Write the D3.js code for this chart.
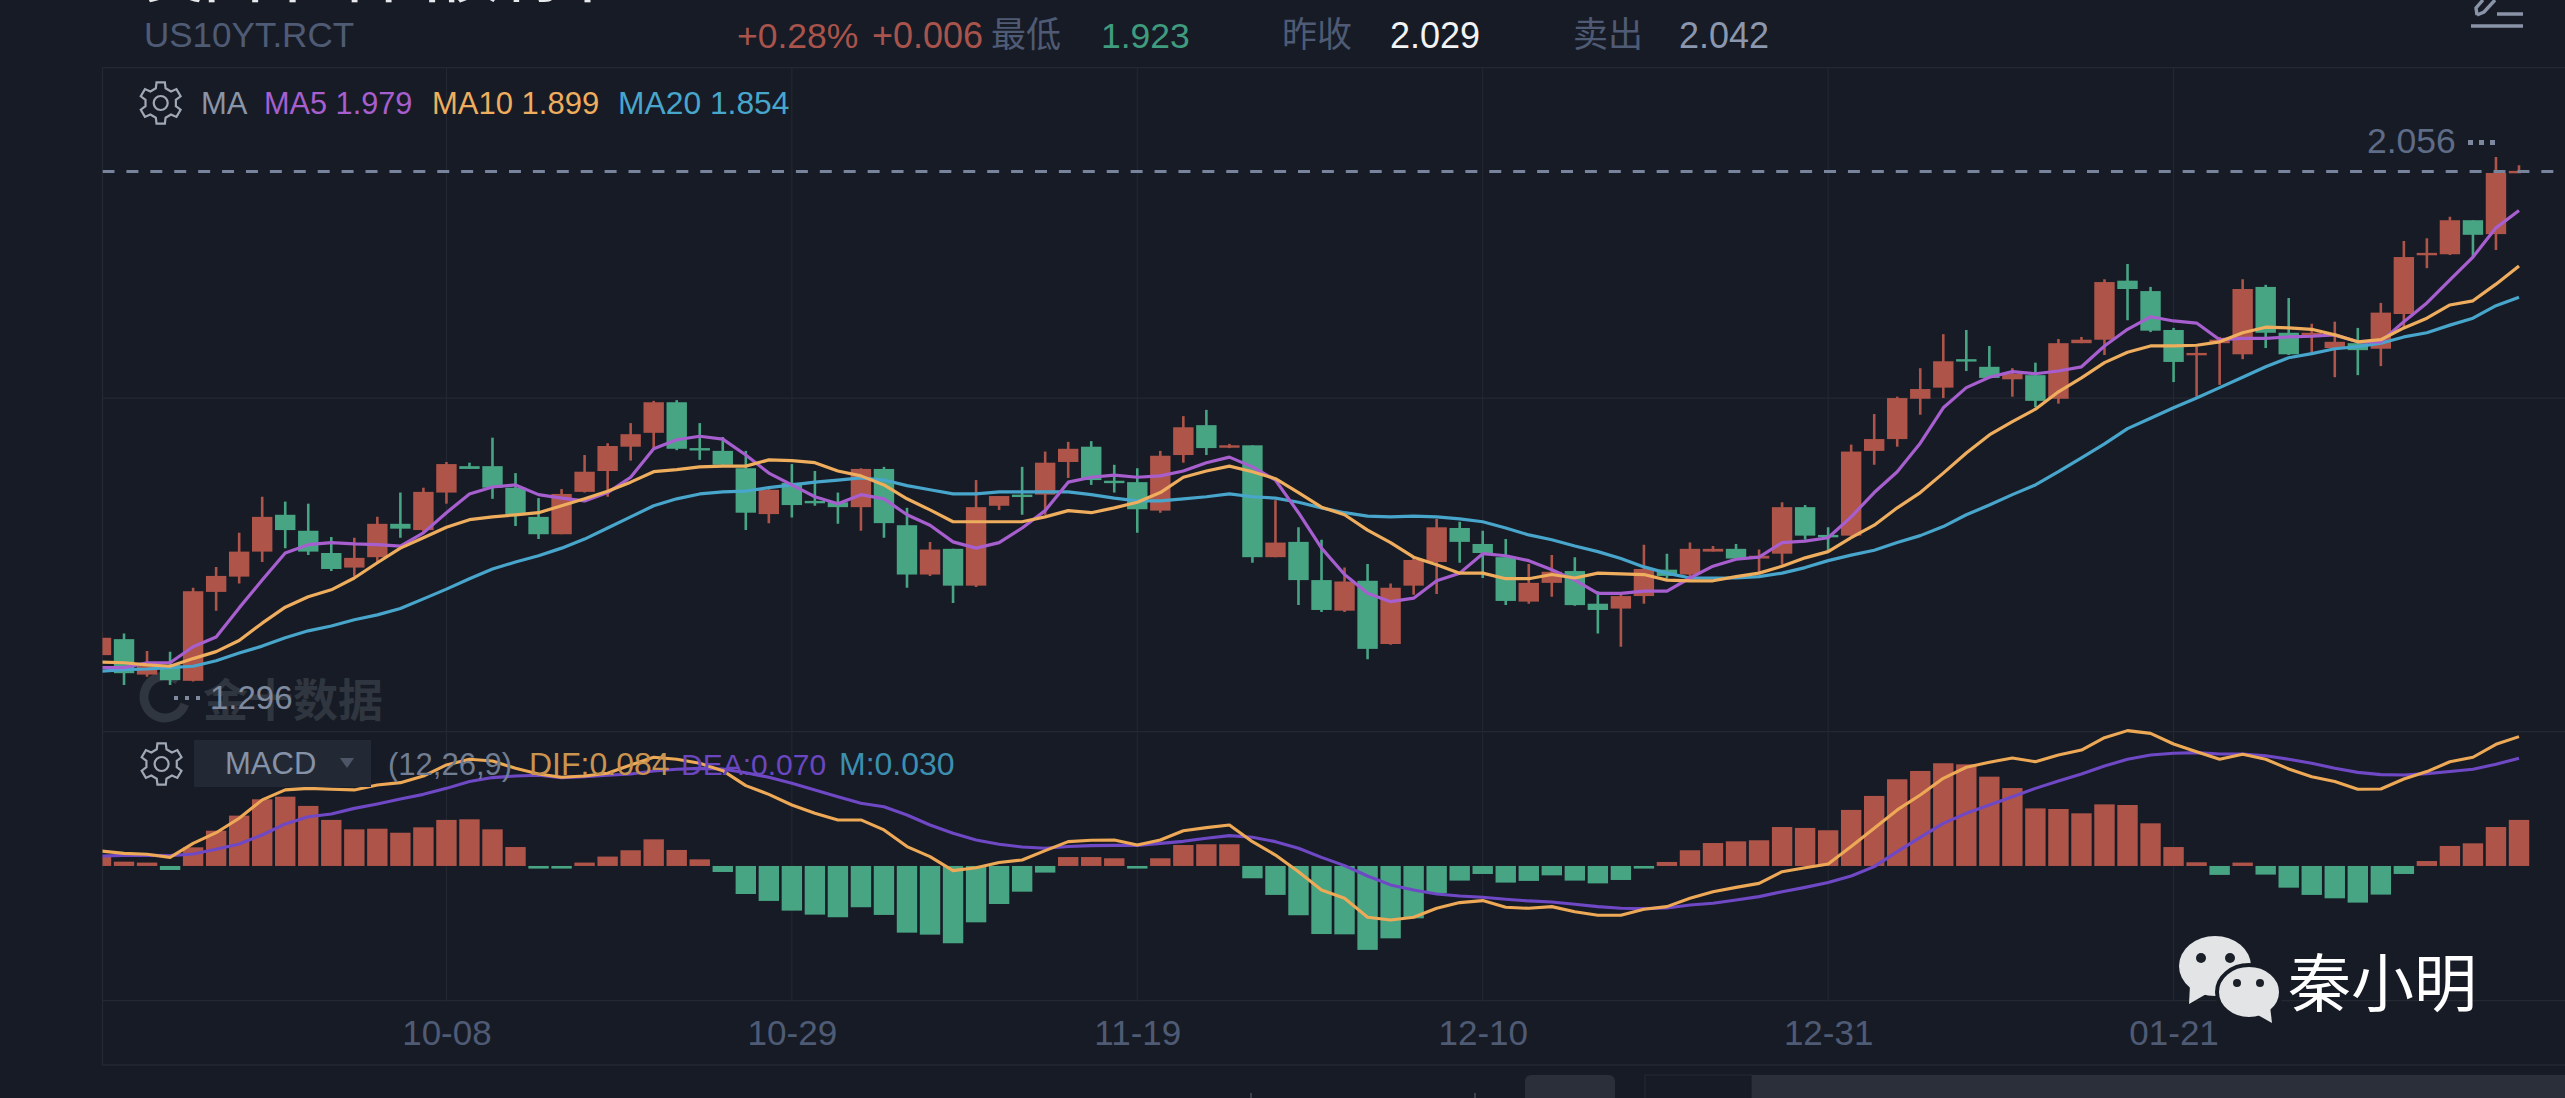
<!DOCTYPE html>
<html>
<head>
<meta charset="utf-8">
<title>US10YT.RCT</title>
<script src="https://cdn.jsdelivr.net/npm/d3@7"></script>
<style>
  html, body { margin: 0; padding: 0; background: #171b25; overflow: hidden; }
  text { font-family: "Liberation Sans", "Noto Sans CJK SC", sans-serif; }
  .cjk { font-family: "Noto Sans CJK SC", sans-serif; }
</style>
</head>
<body>
<svg id="chart" width="2565" height="1098"></svg>
<script>
// daily candles
const openVals = [
  1.339,1.362,1.311,1.325,1.302,1.430,1.452,1.488,1.541,1.518,
  1.486,1.465,1.480,1.528,1.519,1.573,1.611,1.611,1.580,1.538,
  1.513,1.574,1.604,1.639,1.659,1.703,1.637,1.633,1.608,1.542,
  1.587,1.561,1.559,1.552,1.607,1.526,1.455,1.492,1.439,1.554,
  1.570,1.570,1.617,1.639,1.590,1.588,1.547,1.627,1.670,1.639,
  1.641,1.480,1.502,1.447,1.403,1.446,1.355,1.439,1.473,1.522,
  1.499,1.480,1.416,1.443,1.460,1.413,1.406,1.424,1.462,1.455,
  1.488,1.492,1.478,1.485,1.552,1.512,1.511,1.633,1.650,1.708,
  1.724,1.765,1.754,1.736,1.742,1.708,1.788,1.793,1.878,1.863,
  1.807,1.771,1.788,1.772,1.869,1.803,1.797,1.781,1.788,1.780,
  1.830,1.915,1.916,1.965,1.945,2.034];
const closeVals = [
  1.364,1.313,1.325,1.303,1.431,1.453,1.488,1.538,1.519,1.488,
  1.463,1.479,1.528,1.521,1.574,1.614,1.607,1.580,1.542,1.513,
  1.571,1.603,1.640,1.657,1.703,1.636,1.634,1.613,1.544,1.577,
  1.555,1.558,1.552,1.607,1.529,1.455,1.491,1.439,1.552,1.568,
  1.567,1.616,1.636,1.591,1.587,1.549,1.626,1.667,1.637,1.641,
  1.480,1.501,1.447,1.404,1.445,1.348,1.436,1.476,1.523,1.502,
  1.486,1.417,1.443,1.459,1.411,1.404,1.424,1.463,1.453,1.492,
  1.492,1.478,1.482,1.552,1.511,1.509,1.632,1.650,1.709,1.722,
  1.762,1.762,1.738,1.744,1.705,1.788,1.793,1.876,1.866,1.806,
  1.761,1.774,1.793,1.866,1.803,1.772,1.803,1.790,1.778,1.832,
  1.912,1.918,1.965,1.944,2.033,2.036];
const highVals = [
  1.372,1.370,1.345,1.344,1.436,1.466,1.515,1.567,1.560,1.557,
  1.509,1.508,1.538,1.573,1.580,1.617,1.616,1.652,1.601,1.565,
  1.578,1.627,1.644,1.673,1.705,1.706,1.673,1.653,1.633,1.578,
  1.614,1.604,1.573,1.608,1.610,1.551,1.502,1.492,1.591,1.568,
  1.610,1.632,1.646,1.647,1.613,1.608,1.633,1.683,1.692,1.643,
  1.641,1.562,1.523,1.505,1.465,1.470,1.442,1.479,1.535,1.531,
  1.518,1.506,1.470,1.483,1.480,1.431,1.427,1.498,1.485,1.501,
  1.496,1.499,1.491,1.559,1.555,1.523,1.642,1.686,1.711,1.752,
  1.801,1.807,1.784,1.752,1.760,1.794,1.797,1.880,1.902,1.869,
  1.810,1.783,1.797,1.880,1.872,1.853,1.816,1.819,1.810,1.846,
  1.935,1.939,1.970,1.965,2.056,2.044];
const lowVals = [
  1.339,1.296,1.308,1.296,1.301,1.403,1.442,1.473,1.493,1.483,
  1.460,1.452,1.473,1.508,1.515,1.557,1.607,1.564,1.525,1.506,
  1.513,1.573,1.567,1.619,1.637,1.634,1.620,1.613,1.519,1.529,
  1.537,1.554,1.528,1.518,1.508,1.436,1.453,1.414,1.437,1.548,
  1.541,1.541,1.594,1.584,1.573,1.515,1.544,1.616,1.627,1.637,
  1.472,1.480,1.411,1.401,1.401,1.333,1.354,1.426,1.427,1.472,
  1.450,1.411,1.413,1.423,1.410,1.370,1.351,1.413,1.449,1.452,
  1.488,1.478,1.457,1.469,1.505,1.490,1.511,1.613,1.639,1.685,
  1.709,1.748,1.738,1.711,1.696,1.701,1.788,1.771,1.821,1.804,
  1.732,1.711,1.728,1.765,1.781,1.771,1.774,1.739,1.742,1.755,
  1.811,1.896,1.915,1.911,1.922,2.034];

// moving averages
const ma5 = [
  1.321,1.321,1.328,1.328,1.351,1.365,1.407,1.447,1.486,1.498,
  1.501,1.499,1.498,1.496,1.515,1.544,1.571,1.581,1.584,1.570,
  1.565,1.561,1.573,1.595,1.636,1.649,1.654,1.650,1.627,1.601,
  1.584,1.567,1.557,1.570,1.564,1.541,1.526,1.502,1.493,1.501,
  1.522,1.547,1.588,1.595,1.598,1.595,1.597,1.604,1.616,1.624,
  1.610,1.591,1.544,1.493,1.455,1.428,1.416,1.421,1.446,1.457,
  1.485,1.482,1.475,1.462,1.447,1.428,1.428,1.431,1.431,1.450,
  1.467,1.477,1.480,1.501,1.503,1.508,1.538,1.573,1.603,1.644,
  1.695,1.724,1.739,1.747,1.744,1.748,1.754,1.784,1.808,1.826,
  1.820,1.817,1.793,1.795,1.795,1.797,1.798,1.800,1.790,1.790,
  1.819,1.846,1.879,1.912,1.954,1.979];
const ma10 = [
  1.329,1.328,1.325,1.323,1.334,1.344,1.360,1.385,1.408,1.423,
  1.433,1.450,1.472,1.493,1.508,1.523,1.534,1.538,1.541,1.544,
  1.554,1.564,1.575,1.588,1.603,1.606,1.610,1.611,1.611,1.620,
  1.619,1.616,1.604,1.597,1.584,1.564,1.548,1.531,1.531,1.531,
  1.531,1.538,1.547,1.544,1.551,1.559,1.573,1.595,1.604,1.611,
  1.603,1.593,1.573,1.552,1.541,1.519,1.501,1.480,1.469,1.457,
  1.457,1.449,1.449,1.455,1.450,1.457,1.456,1.455,1.447,1.446,
  1.446,1.452,1.457,1.467,1.479,1.488,1.508,1.526,1.551,1.573,
  1.601,1.630,1.656,1.675,1.693,1.718,1.738,1.760,1.775,1.784,
  1.784,1.785,1.790,1.803,1.811,1.810,1.808,1.800,1.790,1.793,
  1.810,1.824,1.843,1.849,1.873,1.899];
const ma20 = [
  1.316,1.318,1.319,1.321,1.323,1.331,1.342,1.352,1.364,1.374,
  1.381,1.390,1.397,1.406,1.420,1.434,1.449,1.463,1.473,1.482,
  1.493,1.506,1.522,1.538,1.554,1.564,1.571,1.574,1.575,1.580,
  1.584,1.588,1.591,1.594,1.591,1.583,1.577,1.571,1.571,1.574,
  1.574,1.574,1.574,1.570,1.565,1.561,1.561,1.564,1.567,1.571,
  1.567,1.565,1.559,1.551,1.544,1.539,1.538,1.539,1.538,1.535,
  1.531,1.522,1.512,1.505,1.496,1.488,1.478,1.466,1.457,1.450,
  1.450,1.450,1.452,1.457,1.465,1.475,1.483,1.490,1.501,1.511,
  1.524,1.541,1.555,1.570,1.584,1.603,1.623,1.643,1.665,1.680,
  1.695,1.709,1.724,1.739,1.754,1.767,1.773,1.780,1.783,1.788,
  1.797,1.803,1.814,1.824,1.842,1.854];

// MACD pane
const difVals = [
  .0097,.0082,.0076,.0056,.0147,.0216,.0310,.0429,.0494,.0504,
  .0498,.0494,.0526,.0541,.0584,.0656,.0693,.0682,.0634,.0597,
  .0576,.0584,.0602,.0656,.0706,.0693,.0667,.0619,.0522,.0465,
  .0396,.0342,.0299,.0299,.0234,.0126,.0061,-.0030,-.0011,.0022,
  .0039,.0100,.0158,.0167,.0169,.0136,.0169,.0229,.0249,.0266,
  .0158,.0071,-.0037,-.0156,-.0210,-.0333,-.0351,-.0333,-.0275,-.0238,
  -.0225,-.0268,-.0275,-.0264,-.0297,-.0320,-.0320,-.0281,-.0264,-.0210,
  -.0167,-.0139,-.0113,-.0037,-.0011,.0013,.0126,.0245,.0364,.0461,
  .0569,.0641,.0673,.0701,.0677,.0721,.0753,.0833,.0879,.0861,
  .0792,.0742,.0693,.0725,.0693,.0630,.0580,.0548,.0498,.0500,
  .0565,.0613,.0677,.0706,.0790,.0840];
const deaVals = [
  .0065,.0069,.0069,.0067,.0078,.0108,.0143,.0201,.0273,.0320,
  .0338,.0374,.0403,.0435,.0465,.0504,.0548,.0574,.0584,.0589,
  .0574,.0580,.0589,.0597,.0617,.0628,.0634,.0630,.0606,.0576,
  .0537,.0494,.0450,.0407,.0385,.0331,.0266,.0212,.0169,.0141,
  .0123,.0115,.0126,.0132,.0134,.0134,.0147,.0160,.0180,.0197,
  .0186,.0158,.0115,.0056,.0002,-.0065,-.0123,-.0156,-.0182,-.0195,
  -.0203,-.0216,-.0227,-.0234,-.0249,-.0264,-.0275,-.0277,-.0273,-.0253,
  -.0242,-.0221,-.0199,-.0167,-.0139,-.0108,-.0065,-.0004,.0093,.0186,
  .0277,.0342,.0396,.0450,.0504,.0552,.0597,.0649,.0693,.0721,
  .0732,.0736,.0727,.0727,.0716,.0693,.0667,.0634,.0608,.0593,
  .0591,.0600,.0613,.0628,.0660,.0700];
const macdVals = [
  .0061,.0028,.0022,-.0026,.0121,.0229,.0327,.0433,.0450,.0390,
  .0299,.0238,.0242,.0216,.0251,.0299,.0303,.0238,.0123,-.0017,
  -.0017,.0022,.0061,.0102,.0173,.0104,.0043,-.0039,-.0182,-.0227,
  -.0290,-.0316,-.0333,-.0268,-.0318,-.0433,-.0446,-.0502,-.0366,-.0247,
  -.0167,-.0043,.0058,.0058,.0050,-.0017,.0050,.0136,.0141,.0141,
  -.0080,-.0188,-.0320,-.0442,-.0444,-.0545,-.0470,-.0340,-.0177,-.0095,
  -.0052,-.0108,-.0097,-.0061,-.0095,-.0113,-.0091,-.0017,.0026,.0102,
  .0149,.0160,.0167,.0253,.0247,.0232,.0364,.0455,.0563,.0617,
  .0667,.0660,.0580,.0506,.0374,.0370,.0342,.0400,.0396,.0277,
  .0123,.0024,-.0058,.0022,-.0056,-.0141,-.0188,-.0210,-.0238,-.0186,
  -.0052,.0032,.0130,.0147,.0253,.0299];

const tickIndex = [15, 30, 45, 60, 75, 90];
const tickLabels = ["10-08", "10-29", "11-19", "12-10", "12-31", "01-21"];
const lastPrice = 2.035;
const priceGrid = [1.709];

const colors = {
  bg: "#171b25", grid: "#232833", up: "#ae5449", down: "#47a584",
  ma5: "#a75fcf", ma10: "#efad5e", ma20: "#48a6cc",
  dif: "#eea957", dea: "#6f48c6", muted: "#4f5b75", label: "#8793a9"
};

const width = 2565, height = 1098;
const plotLeft = 102.5, plotTop = 67.7, paneSep = 731.7, paneBottom = 1000.7, frameBottom = 1065;

const svg = d3.select("#chart");
svg.append("rect").attr("width", width).attr("height", height).attr("fill", colors.bg);

const x = d3.scaleLinear().domain([0, 105]).range([101, 2519]);
const y = d3.scaleLinear().domain([1.296, 2.056]).range([685, 157]);
const yM = d3.scaleLinear().domain([-0.0875, 0.0872]).range([paneBottom, paneSep]);

const bodyW = 20.4;
const candles = openVals.map((o, i) => ({
  i: i, open: o, close: closeVals[i], high: highVals[i], low: lowVals[i],
  up: closeVals[i] >= o
}));

svg.append("clipPath").attr("id", "plotClip").append("rect")
  .attr("x", plotLeft).attr("y", plotTop).attr("width", width - plotLeft).attr("height", frameBottom - plotTop);
// the newest candle is cut at its wick in the source
svg.append("clipPath").attr("id", "candleClip").append("rect")
  .attr("x", plotLeft).attr("y", plotTop).attr("width", x(105) + 2 - plotLeft).attr("height", paneSep - plotTop);

// frame and grid
const gridG = svg.append("g").attr("stroke", colors.grid).attr("stroke-width", 1.3);
[plotTop, paneSep, paneBottom, frameBottom].forEach((v) => {
  gridG.append("line").attr("x1", plotLeft).attr("x2", width).attr("y1", v).attr("y2", v);
});
gridG.append("line").attr("x1", plotLeft).attr("x2", plotLeft).attr("y1", plotTop).attr("y2", frameBottom);
gridG.selectAll(".v").data(tickIndex).enter().append("line").attr("class", "v")
  .attr("x1", (d) => x(d)).attr("x2", (d) => x(d)).attr("y1", plotTop).attr("y2", paneBottom)
  .attr("stroke-width", 1.1);
gridG.selectAll(".h").data(priceGrid).enter().append("line").attr("class", "h")
  .attr("x1", plotLeft).attr("x2", width).attr("y1", (d) => y(d)).attr("y2", (d) => y(d));

// watermark sits behind the candles
const wm = svg.append("g");
wm.append("circle").attr("cx", 165).attr("cy", 697).attr("r", 21)
  .attr("fill", "none").attr("stroke", "#30363f").attr("stroke-width", 9)
  .attr("stroke-dasharray", "105 27").attr("transform", "rotate(20 165 697)");
wm.append("text").attr("class", "cjk").attr("x", 203).attr("y", 717)
  .attr("font-size", 45).attr("font-weight", 700).attr("fill", "#30363f").text("金十数据");

const candleG = svg.append("g").attr("clip-path", "url(#candleClip)");
const plot = svg.append("g").attr("clip-path", "url(#plotClip)");

// candles
candleG.selectAll(".wick").data(candles).enter().append("line").attr("class", "wick")
  .attr("x1", (d) => x(d.i)).attr("x2", (d) => x(d.i))
  .attr("y1", (d) => y(d.high)).attr("y2", (d) => y(d.low))
  .attr("stroke", (d) => (d.up ? colors.up : colors.down)).attr("stroke-width", 2.6);
candleG.selectAll(".body").data(candles).enter().append("rect").attr("class", "body")
  .attr("x", (d) => x(d.i) - bodyW / 2).attr("width", bodyW)
  .attr("y", (d) => y(Math.max(d.open, d.close)))
  .attr("height", (d) => Math.max(2.4, Math.abs(y(d.open) - y(d.close))))
  .attr("fill", (d) => (d.up ? colors.up : colors.down));

// last price line, over the candles
plot.append("line").attr("x1", plotLeft).attr("x2", 2556)
  .attr("y1", y(lastPrice)).attr("y2", y(lastPrice))
  .attr("stroke", "#78839c").attr("stroke-width", 3).attr("stroke-dasharray", "12 11.91");

// MA lines
const maLine = d3.line().x((d, i) => x(i)).y((d) => y(d));
[[ma20, colors.ma20], [ma5, colors.ma5], [ma10, colors.ma10]].forEach(([vals, c]) => {
  plot.append("path").datum(vals).attr("d", maLine)
    .attr("fill", "none").attr("stroke", c).attr("stroke-width", 3.2)
    .attr("stroke-linejoin", "round");
});

// MACD bars and lines
plot.selectAll(".bar").data(macdVals).enter().append("rect").attr("class", "bar")
  .attr("x", (d, i) => x(i) - bodyW / 2).attr("width", bodyW)
  .attr("y", (d) => yM(Math.max(d, 0)))
  .attr("height", (d) => Math.abs(yM(d) - yM(0)))
  .attr("fill", (d) => (d >= 0 ? colors.up : colors.down));

const macdLine = d3.line().x((d, i) => x(i)).y((d) => yM(d));
[[deaVals, colors.dea], [difVals, colors.dif]].forEach(([vals, c]) => {
  plot.append("path").datum(vals).attr("d", macdLine)
    .attr("fill", "none").attr("stroke", c).attr("stroke-width", 3.1)
    .attr("stroke-linejoin", "round");
});

// date axis
const xAxis = d3.axisBottom(x).tickValues(tickIndex)
  .tickFormat((d, k) => tickLabels[k]).tickSize(0).tickPadding(0);
svg.append("g").attr("transform", "translate(0,1045)").call(xAxis)
  .call((g) => g.select(".domain").remove())
  .call((g) => g.selectAll("text")
    .attr("y", 0).attr("dy", 0)
    .attr("font-size", 35).attr("font-family", "Liberation Sans").attr("fill", colors.muted));

// text helper
function label(txt, px, py, size, fill, cls) {
  return svg.append("text").attr("class", cls || null)
    .attr("x", px).attr("y", py).attr("font-size", size).attr("fill", fill).text(txt);
}

// header row
label("美国十年国债利率", 145, -3, 59, "#e8e9ec", "cjk").attr("font-weight", 500);
label("US10YT.RCT", 144, 47, 35, colors.muted);
label("+0.28%", 737, 48, 35.5, "#a8544c");
label("+0.006", 872, 48, 36, "#a8544c");
label("最低", 991, 47, 35, colors.muted, "cjk");
label("1.923", 1101, 48, 35.5, "#3f9c7e");
label("昨收", 1282, 47, 35, colors.muted, "cjk");
label("2.029", 1390, 48, 36, "#f2f3f5");
label("卖出", 1573, 47, 35, colors.muted, "cjk");
label("2.042", 1679, 48, 36, "#8b97ae");

// pencil in the top right corner
svg.append("path").attr("d", "M2471 26H2523M2497 14H2523M2477 15L2476 8L2483 0M2477 15L2484 12L2495 0")
  .attr("fill", "none").attr("stroke", "#8a94a8").attr("stroke-width", 3.4);

// gear drawn from radial teeth
function gear(cx, cy) {
  const pts = [];
  d3.range(6).forEach((k) => {
    const a = (k * Math.PI) / 3;
    [[-0.32, 15.5], [-0.2, 21], [0.2, 21], [0.32, 15.5]].forEach(([da, r]) => {
      pts.push([cx + r * Math.sin(a + da), cy - r * Math.cos(a + da)]);
    });
  });
  const g = svg.append("g").attr("fill", "none").attr("stroke", "#a0a8b6").attr("stroke-width", 2.2);
  g.append("path").attr("d", d3.line()(pts) + "Z");
  g.append("circle").attr("cx", cx).attr("cy", cy).attr("r", 7);
}

gear(160.7, 103);
label("MA", 201, 114, 31, "#8a95a8");
label("MA5 1.979", 264, 114, 30.7, colors.ma5);
label("MA10 1.899", 432, 114, 31, colors.ma10);
label("MA20 1.854", 618, 114, 31.8, colors.ma20);

// high and low markers
label("2.056", 2367, 153, 35.5, "#5f6c87");
d3.range(3).forEach((k) => {
  svg.append("rect").attr("x", 2468 + k * 11).attr("y", 140).attr("width", 5).attr("height", 5).attr("fill", "#7d889e");
});
label("1.296", 210, 709, 33, "#7f8a9e");
d3.range(3).forEach((k) => {
  svg.append("rect").attr("x", 174 + k * 11).attr("y", 696).attr("width", 4).attr("height", 4).attr("fill", "#7f8a9e");
});

// MACD row
gear(161.6, 764);
svg.append("rect").attr("x", 194).attr("y", 740).attr("width", 177).attr("height", 47).attr("fill", "#232934");
label("MACD", 225, 774, 31, "#8592a8");
svg.append("path").attr("d", "M340 758H354L347 768Z").attr("fill", "#4d5666");
label("(12,26,9)", 388, 775, 31, "#717d92");
label("DIF:0.084", 529, 775, 32, "#c99350");
label("DEA:0.070", 681, 775, 30, "#6a47c0");
label("M:0.030", 839, 775, 32, "#3d8fb0");

// bottom strip (range selector, cropped by the screenshot)
svg.append("rect").attr("x", 1525).attr("y", 1075).attr("width", 90).attr("height", 30).attr("rx", 6).attr("fill", "#2a2f3a");
svg.append("rect").attr("x", 1645).attr("y", 1075).attr("width", 107).attr("height", 30).attr("fill", "none").attr("stroke", "#232833").attr("stroke-width", 1.2);
svg.append("rect").attr("x", 1752).attr("y", 1075).attr("width", 813).attr("height", 30).attr("fill", "#2a2f3a");
[1251, 1475].forEach((v) => {
  svg.append("line").attr("x1", v).attr("x2", v).attr("y1", 1093).attr("y2", 1098).attr("stroke", "#3a404c").attr("stroke-width", 2);
});

// WeChat mark and name
const wx = svg.append("g").attr("fill", "#e3e4e6");
wx.append("ellipse").attr("cx", 2215).attr("cy", 966).attr("rx", 36).attr("ry", 30);
wx.append("path").attr("d", "M2190 985L2189 1004L2208 993Z");
wx.append("ellipse").attr("cx", 2249).attr("cy", 992).attr("rx", 32).attr("ry", 27).attr("stroke", colors.bg).attr("stroke-width", 4);
wx.append("path").attr("d", "M2256 1014L2272 1023L2270 1006Z");
[[2201, 958, 5], [2230, 958, 5], [2237, 983, 4], [2260, 983, 4]].forEach(([cx, cy, r]) => {
  wx.append("circle").attr("cx", cx).attr("cy", cy).attr("r", r).attr("fill", "#1c2029");
});
label("秦小明", 2288, 1006, 63, "#ffffff", "cjk");
</script>
</body>
</html>
